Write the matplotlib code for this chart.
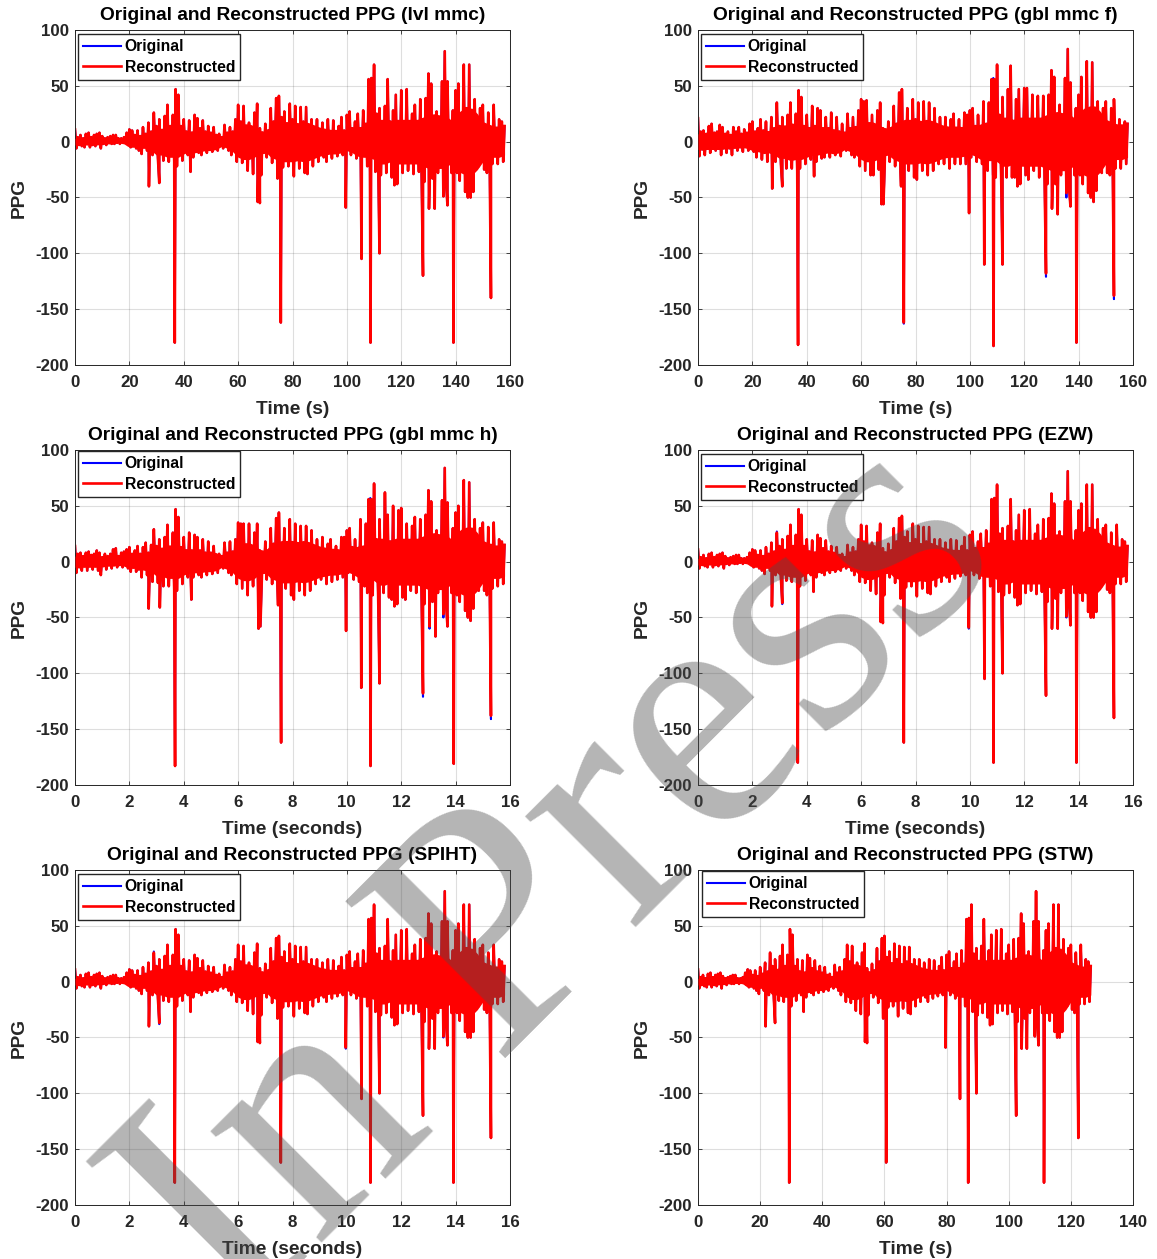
import matplotlib
matplotlib.use("Agg")
import matplotlib.pyplot as plt

plt.rcParams['font.family'] = ['Liberation Sans', 'DejaVu Sans']
plt.rcParams['font.weight'] = 'bold'
plt.rcParams['axes.unicode_minus'] = False

W, H = 1157, 1259

# envelope of the dense signal, one value per second of the 0-158 s record
base_up = [11,4,6,3,7,8,4,6,7,8,
           5,3,4,5,6,6,3,3,4,8,
           11,10,6,10,5,13,7,17,9,26,
           14,20,10,23,33,14,24,47,42,14,
           20,9,19,8,24,21,12,19,9,14,
           8,13,6,7,4,15,8,13,9,20,
           33,18,32,12,17,9,26,34,12,8,
           16,10,30,18,39,41,22,27,14,34,
           20,32,14,31,18,31,12,20,10,20,
           9,17,10,20,8,19,8,14,22,10,
           24,27,12,18,25,12,28,16,56,57,
           69,25,30,14,32,56,18,28,42,16,
           46,14,47,16,25,33,14,38,20,39,
           61,52,20,27,14,54,81,54,18,28,
           46,52,22,69,30,69,22,38,14,30,
           33,14,26,12,33,12,20,18,14]
base_low = [-6,-3,-4,-5,-2,-5,-3,-4,-2,-6,
            -2,-3,-1,-2,-2,-1,-2,-1,-1,-3,
            -5,-3,-6,-8,-11,-4,-8,-5,-12,-6,
            -15,-8,-17,-9,-18,-10,-18,-22,-9,-17,
            -8,-12,-7,-14,-6,-10,-12,-6,-10,-5,
            -9,-5,-8,-4,-6,-3,-8,-12,-8,-18,
            -10,-19,-12,-26,-14,-29,-12,-25,-30,-10,
            -14,-8,-19,-10,-24,-12,-23,-10,-22,-12,
            -31,-14,-24,-12,-28,-29,-12,-22,-10,-18,
            -8,-14,-18,-9,-15,-7,-13,-6,-12,-7,
            -5,-12,-6,-15,-8,-16,-10,-22,-27,-12,
            -27,-14,-30,-13,-28,-14,-32,-39,-38,-16,
            -28,-14,-26,-12,-29,-13,-27,-33,-36,-14,
            -27,-33,-14,-28,-12,-36,-38,-14,-28,-12,
            -28,-35,-18,-45,-50,-50,-45,-15,-22,-12,
            -25,-28,-12,-20,-10,-20,-9,-18,-13]
# half width of the solid middle of the trace, one value per 2 s
base_core = [3,3,3,3,3,2,2,2,1,2,
             5,5,6,6,8,12,12,14,14,14,
             11,9,10,9,8,8,7,4,6,9,
             14,16,16,14,10,9,14,16,18,18,
             18,17,18,17,15,13,12,11,11,10,
             8,10,13,14,14,16,20,20,18,20,
             20,20,20,20,22,24,25,24,24,20,
             24,28,30,30,25,18,16,14,14,12]
base_spikes = [(27.2,-40),(31,-37),(36.7,-180),(42.5,-27),(67.2,-54),(68,-55),
               (74.5,-33),(75.7,-162),(99.6,-59),(105.4,-105),(108.7,-180),
               (112,-100),(128,-120),(130.2,-60),(132.3,-60),(135.5,-49),
               (137,-57),(139.2,-180),(153,-140)]

f_up = [21,9,10,7,14,16,8,9,15,13,
        7,9,6,13,9,13,7,11,8,16,
        18,9,12,20,10,18,8,22,12,35,
        14,22,12,24,35,14,25,46,40,14,
        24,12,32,14,30,28,12,22,12,26,
        10,22,9,16,8,25,12,22,13,28,
        38,36,37,14,24,10,28,35,12,8,
        18,12,32,16,44,47,16,30,14,38,
        20,35,14,36,16,35,12,30,10,22,
        10,22,11,20,25,10,20,12,26,24,
        28,30,14,24,14,36,16,35,56,56,
        69,24,40,16,47,68,18,38,47,16,
        48,48,16,42,14,41,16,41,18,42,
        64,58,18,33,16,57,83,53,16,30,
        42,58,20,72,26,71,18,36,14,30,
        36,13,30,38,12,20,11,18,16]
f_low = [-13,-7,-12,-6,-10,-6,-8,-6,-12,-6,
         -10,-6,-12,-5,-8,-5,-9,-4,-8,-5,
         -9,-14,-7,-16,-10,-18,-8,-16,-18,-10,
         -20,-12,-24,-11,-24,-13,-26,-24,-11,-20,
         -10,-16,-9,-18,-8,-15,-14,-8,-14,-7,
         -12,-7,-13,-6,-8,-3,-12,-14,-9,-22,
         -12,-26,-14,-30,-30,-13,-25,-28,-35,-10,
         -18,-10,-22,-12,-27,-28,-13,-26,-15,-32,
         -34,-14,-26,-14,-30,-13,-26,-12,-20,-10,
         -20,-10,-24,-12,-20,-9,-20,-10,-20,-10,
         -14,-8,-18,-10,-20,-12,-26,-14,-30,-32,
         -15,-30,-16,-32,-14,-32,-32,-40,-38,-16,
         -30,-34,-14,-26,-16,-32,-16,-36,-38,-18,
         -32,-38,-16,-30,-15,-40,-42,-16,-30,-15,
         -30,-38,-20,-46,-50,-54,-44,-16,-28,-14,
         -28,-30,-13,-24,-13,-24,-11,-20,-16]
f_core = [7,7,7,7,7,6,6,6,5,6,
          8,9,10,10,12,15,15,17,16,16,
          14,12,12,11,10,11,10,7,9,12,
          16,18,18,16,13,12,16,18,20,20,
          20,19,20,19,17,15,14,14,14,13,
          11,13,16,17,17,18,22,22,20,22,
          22,22,22,22,24,26,27,26,26,22,
          26,30,32,32,27,20,18,16,16,14]
f_spikes = [(27.3,-42),(31,-40),(36.8,-182),(42.7,-31),(67.5,-56),(68.2,-56),
            (74.7,-40),(75.7,-162),(99.7,-64),(105.3,-110),(108.7,-183),
            (112,-110),(128,-118),(130.2,-60),(132.3,-65),(135.5,-46),
            (137,-58),(139.2,-180),(153,-138)]

h_up = [14,7,8,5,8,9,6,7,10,8,
        4,7,5,7,11,12,5,8,9,11,
        13,7,10,14,7,13,17,8,15,29,
        14,20,11,22,33,12,26,47,40,13,
        22,10,26,10,24,22,10,20,8,18,
        8,14,6,7,5,17,8,18,9,20,
        35,34,34,12,34,10,26,34,10,8,
        18,10,30,16,39,44,15,30,13,38,
        17,34,13,32,16,32,13,28,9,20,
        8,22,9,16,20,8,14,8,22,22,
        28,30,13,20,12,38,13,34,56,56,
        70,20,38,18,62,42,18,50,17,46,
        48,15,34,19,32,40,18,38,19,42,
        64,54,18,28,15,55,84,53,17,30,
        44,50,20,73,24,71,18,38,14,30,
        35,13,31,15,35,9,20,18,15]
h_low = [-10,-5,-8,-4,-8,-4,-7,-4,-8,-12,
         -4,-7,-3,-6,-3,-5,-3,-5,-3,-6,
         -9,-5,-9,-7,-14,-6,-12,-7,-18,-8,
         -19,-11,-22,-10,-22,-12,-26,-26,-9,-20,
         -9,-14,-8,-14,-7,-12,-14,-7,-12,-6,
         -11,-6,-10,-4,-6,-1,-10,-12,-9,-20,
         -11,-24,-13,-30,-13,-22,-12,-28,-34,-10,
         -16,-9,-20,-11,-24,-26,-12,-24,-13,-30,
         -34,-15,-26,-14,-30,-13,-26,-11,-20,-9,
         -16,-9,-20,-11,-18,-8,-16,-8,-14,-8,
         -10,-7,-16,-10,-18,-10,-22,-28,-14,-30,
         -14,-30,-15,-28,-15,-32,-34,-40,-38,-15,
         -32,-34,-15,-26,-15,-28,-15,-36,-38,-15,
         -30,-36,-15,-28,-14,-38,-38,-16,-28,-14,
         -30,-36,-20,-44,-50,-53,-42,-15,-26,-13,
         -26,-30,-13,-24,-12,-22,-11,-20,-15]
h_core = [5,5,5,5,5,4,4,4,3,4,
          6,6,7,8,9,13,13,15,15,15,
          12,10,10,10,9,9,8,5,7,10,
          15,17,17,15,11,10,15,17,19,19,
          19,18,19,18,16,14,13,12,12,11,
          9,11,14,15,15,17,21,21,19,21,
          21,21,21,21,23,25,26,25,25,21,
          25,29,31,31,26,19,17,15,15,13]
h_spikes = [(27.1,-42),(31.2,-41),(36.8,-183),(42.8,-34),(67.5,-60),(68.2,-58),
            (74.7,-39),(75.8,-162),(99.7,-62),(105.3,-113),(108.7,-183),
            (112,-109),(128,-118),(130.4,-58),(132.6,-67),(135.5,-47),
            (137,-58),(139.3,-181),(153,-138)]

# small places where the original pokes out from under the reconstruction
f_tips = [(128,-121),(153,-141),(135.5,-50),(108.6,57),(75.7,-163)]
h_tips = [(128,-121),(153,-141),(135.5,-50),(130.4,-60),(108.6,57),(37,46)]
ezw_tips = [(29,27),(31,-38),(135.5,-50),(99.6,-60)]
spiht_tips = [(29,27),(31,-38),(135.5,-50),(99.6,-60)]

titles = ['Original and Reconstructed PPG (lvl mmc)',
          'Original and Reconstructed PPG (gbl mmc f)',
          'Original and Reconstructed PPG (gbl mmc h)',
          'Original and Reconstructed PPG (EZW)',
          'Original and Reconstructed PPG (SPIHT)',
          'Original and Reconstructed PPG (STW)']
xlabels = ['Time (s)', 'Time (s)', 'Time (seconds)', 'Time (seconds)',
           'Time (seconds)', 'Time (s)']
xticks_160 = [0, 20, 40, 60, 80, 100, 120, 140, 160]
xticks_16 = [0, 2, 4, 6, 8, 10, 12, 14, 16]
xticks_140 = [0, 20, 40, 60, 80, 100, 120, 140]
yticks = [-200, -150, -100, -50, 0, 50, 100]
time_factors = [1, 1, 0.1, 0.1, 0.1, 0.8]


def trace(up, low, spikes, factor):
    pts = []
    for i, (a, b) in enumerate(zip(up, low, strict=True)):
        pts.append((i, a))
        if i < len(up) - 1:
            pts.append((i + 0.5, b))
    pts = sorted(pts + list(spikes))
    return [p[0] * factor for p in pts], [p[1] for p in pts]


fig = plt.figure(figsize=(W / 100, H / 100), dpi=100)

lefts = [75, 698]
tops = [30, 450, 870]
panels = [(base_up, base_low, base_core, base_spikes, [], xticks_160),
          (f_up, f_low, f_core, f_spikes, f_tips, xticks_160),
          (h_up, h_low, h_core, h_spikes, h_tips, xticks_16),
          (base_up, base_low, base_core, base_spikes, ezw_tips, xticks_16),
          (base_up, base_low, base_core, base_spikes, spiht_tips, xticks_16),
          (base_up, base_low, base_core, base_spikes, [], xticks_140)]
legend_drop = [0, 0, -3, 0, 0, -3]
legend_shift = [0, 0, 0, 0, 0, 1]

for n, (up, low, core, spikes, tips, xt) in enumerate(panels):
    left = lefts[n % 2]
    top = tops[n // 2]
    ax = fig.add_axes([left / W, 1 - (top + 335) / H, 435 / W, 335 / H])
    x0, y0 = trace(up, low, list(spikes) + list(tips), time_factors[n])
    x1, y1 = trace(up, low, spikes, time_factors[n])
    ax.plot(x0, y0, color='#0000ff', lw=1.5, label='Original')
    ax.plot(x1, y1, color='#ff0000', lw=1.9, label='Reconstructed')
    tc = [i * 2 * time_factors[n] for i in range(len(core))]
    ax.fill_between(tc, [-c for c in core], core, color='#ff0000', lw=0, zorder=3)
    ax.set_xlim(xt[0], xt[-1])
    ax.set_ylim(-200, 100)
    ax.set_xticks(xt)
    ax.set_yticks(yticks)
    ax.grid(True, color='#262626', alpha=0.15, lw=0.8)
    ax.set_axisbelow(True)
    ax.tick_params(direction='in', top=True, right=True, length=3, width=0.6,
                   labelsize=12.2, labelcolor='#262626', color='#262626')
    ax.tick_params(axis='x', pad=7)
    ax.tick_params(axis='y', pad=4)
    for s in ax.spines.values():
        s.set_linewidth(0.7)
        s.set_color('#262626')
    ax.set_title(titles[n], fontsize=13.8, fontweight='bold', color='black', pad=7)
    ax.set_xlabel(xlabels[n], fontsize=13.8, fontweight='bold', color='#262626', labelpad=8)
    ax.set_ylabel('PPG', fontsize=13.8, fontweight='bold', color='#262626', labelpad=6)
    leg = ax.legend(loc='upper left',
                    bbox_to_anchor=((3 + legend_shift[n]) / 435, (331 - legend_drop[n]) / 335),
                    borderaxespad=0, fancybox=False, framealpha=1, edgecolor='#262626',
                    fontsize=11.3, handlelength=2.45, handletextpad=0.2, borderpad=0.32,
                    labelspacing=0.35)
    leg.set_zorder(10)

fig.text(564 / W, 1 - 884 / H, 'In Press', family='Liberation Serif', fontsize=246,
         fontweight='normal', color=(0.3, 0.3, 0.3), alpha=0.42, rotation=45,
         rotation_mode='anchor', ha='center', va='center', zorder=5)

fig.savefig('out.png', dpi=100)
